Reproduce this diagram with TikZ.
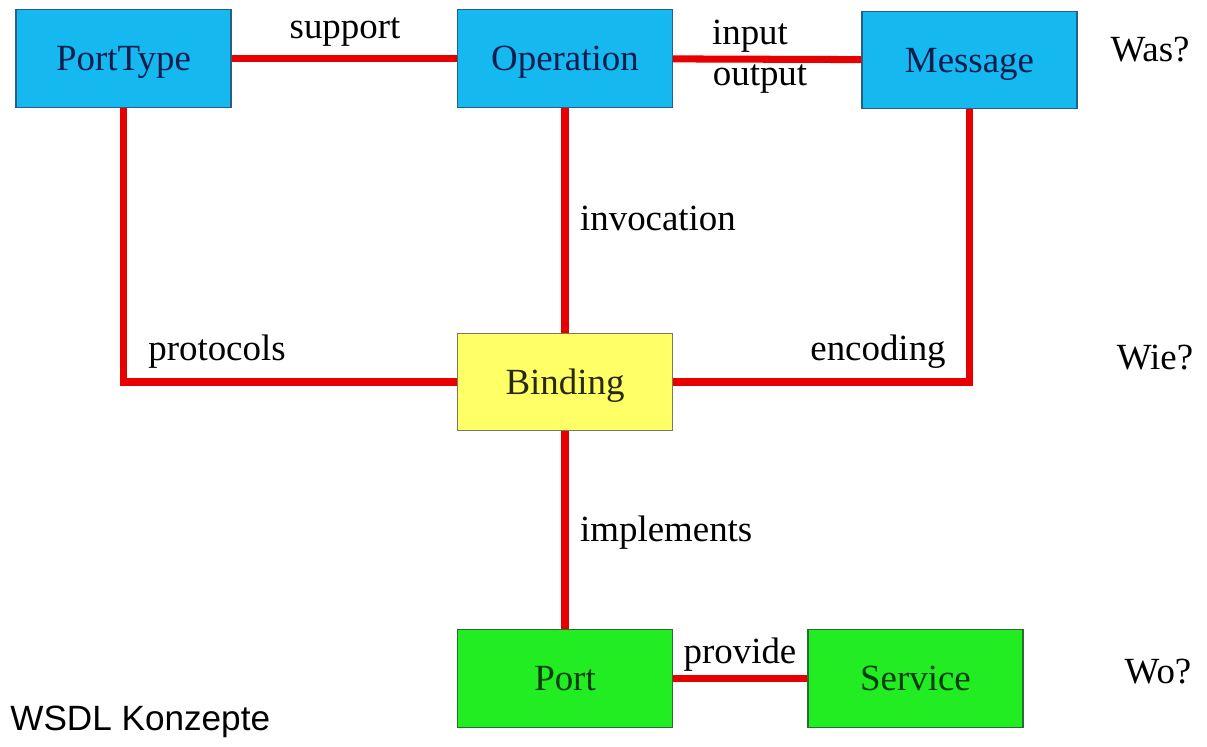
\documentclass[tikz,border=0pt]{standalone}
\usepackage{fontspec}
\setmainfont{Liberation Serif}
\setsansfont{Liberation Sans}
\definecolor{wsdlblue}{RGB}{22,184,240}
\definecolor{wsdlblueline}{RGB}{40,95,135}
\definecolor{wsdlbluetext}{RGB}{12,30,80}
\definecolor{wsdlyellow}{RGB}{255,255,102}
\definecolor{wsdlyellowline}{RGB}{120,120,90}
\definecolor{wsdlyellowtext}{RGB}{40,40,12}
\definecolor{wsdlgreen}{RGB}{34,236,34}
\definecolor{wsdlgreenline}{RGB}{40,110,50}
\definecolor{wsdlgreentext}{RGB}{0,60,10}
\definecolor{wsdlred}{RGB}{232,0,0}

\begin{document}
\begin{tikzpicture}[x=0.02cm,y=-0.02cm,
  box/.style={rectangle,draw=wsdlblueline,fill=wsdlblue,line width=0.8pt,
    minimum width=4.3cm,minimum height=1.95cm,text depth=0pt,
    font=\fontsize{21}{25}\selectfont,text=wsdlbluetext},
  bindbox/.style={box,draw=wsdlyellowline,fill=wsdlyellow,text=wsdlyellowtext},
  portbox/.style={box,draw=wsdlgreenline,fill=wsdlgreen,text=wsdlgreentext},
  lbl/.style={font=\fontsize{21}{25}\selectfont,inner sep=1pt},
  link/.style={draw=wsdlred,line width=4pt}
]
  \useasboundingbox (0,0) rectangle (1207,747);
  \fill[white] (0,0) rectangle (1207,747);

  \node[box]     (pt)  at (123.5,58.5) {PortType};
  \node[box]     (op)  at (565,58.5)   {Operation};
  \node[box]     (msg) at (969.5,60)   {Message};
  \node[bindbox] (bd)  at (565,382)    {Binding};
  \node[portbox] (po)  at (565,678.5)  {Port};
  \node[portbox] (sv)  at (915.5,678.5) {Service};

  \draw[link] (pt) -- (op);
  \draw[link] (op) -- (msg);
  \draw[link] (op) -- (bd);
  \draw[link] (bd) -- (po);
  \draw[link] (po) -- (sv);
  \draw[link] (pt.south) |- (bd.west);
  \draw[link] (msg.south) |- (bd.east);

  \node[lbl] (lsup)  at (345,32)  {support};
  \node[lbl] (lin)   at (750,36)  {input};
  \node[lbl] (lout)  at (760,79)  {output};
  \node[lbl,anchor=west] (linv) at (578,218) {invocation};
  \node[lbl] (lprot) at (217,352) {protocols};
  \node[lbl] (lenc)  at (878,352) {encoding};
  \node[lbl,anchor=west] (limp) at (578,533) {implements};
  \node[lbl] (lprov) at (740,655) {provide};

  \node[lbl] (was) at (1150,50)  {Was?};
  \node[lbl] (wie) at (1155,358) {Wie?};
  \node[lbl] (wo)  at (1158,672) {Wo?};

  \node[font=\sffamily\fontsize{20}{24}\selectfont,anchor=west,inner sep=0pt]
    (title) at (10,722) {WSDL Konzepte};
\end{tikzpicture}
\end{document}
